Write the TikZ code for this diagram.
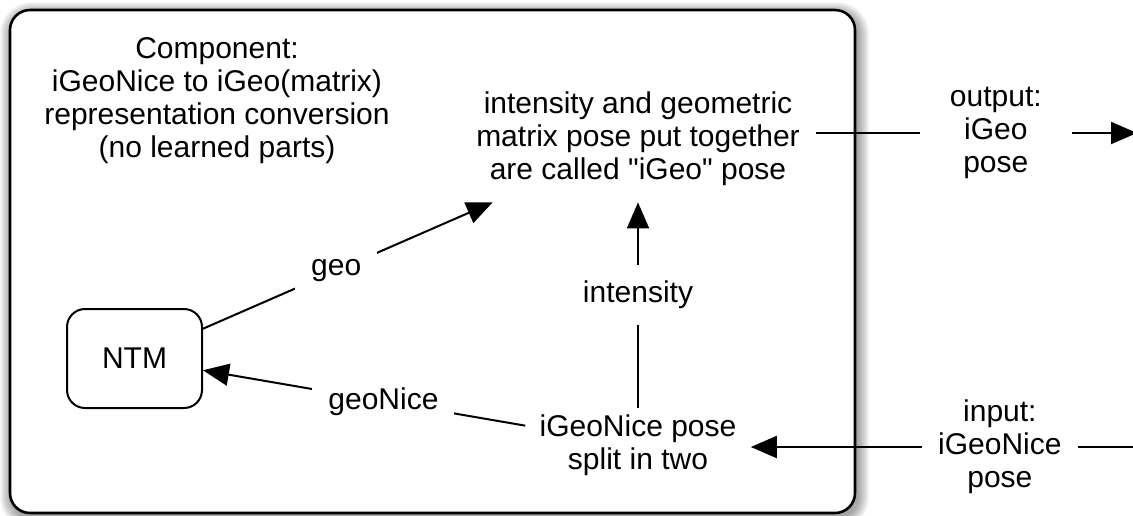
\documentclass[tikz,border=0pt]{standalone}
\usepackage{fontspec}
\setmainfont{Liberation Sans}[Ligatures=TeXOff]
\usetikzlibrary{arrows.meta}
\tikzset{
  txt/.style={align=center, font=\fontsize{15}{16.5}\selectfont},
  lbl/.style={txt, fill=white, inner sep=8pt},
  arr/.style={line width=1pt, -{Triangle[length=13pt,width=11pt]}},
}

\begin{document}
\begin{tikzpicture}[x=0.5pt, y=-0.5pt]
    \useasboundingbox (0,0) rectangle (1133,515);
    % soft shadow behind the component frame
    \foreach \r [evaluate=\r as \rc using 10+0.5*\r] in {1,...,12}
        \fill[black, opacity=0.035, rounded corners=\rc pt] (12-\r,14-\r) rectangle (857+\r,517+\r);
    \draw[line width=1.3pt, fill=white, rounded corners=10pt] (10,10) rectangle (855,513);

    \node[txt] (comp) at (217,101) {Component:\\iGeoNice to iGeo(matrix)\\representation conversion\\(no learned parts)};
    \node[txt, inner sep=8pt] (pair) at (638,139) {intensity and geometric\\matrix pose put together\\are called "iGeo" pose};
    \node[txt, draw, line width=1pt, rounded corners=9pt, minimum width=67.5pt, minimum height=49.5pt] (ntm) at (134.5,358.5) {NTM};
    \node[txt, inner xsep=7pt, inner ysep=3pt] (split) at (638,445) {iGeoNice pose\\split in two};
    \coordinate (out) at (1137,133);
    \coordinate (in) at (1140,447);

    \draw[arr] (ntm) -- node[lbl, pos=0.46] {geo} (pair);
    \draw[arr] (split) -- node[lbl, pos=0.44] {geoNice} (ntm);
    \draw[arr] (split) -- node[lbl, pos=0.55] {intensity} (pair);
    \draw[arr] (pair.east |- out) -- node[lbl, inner xsep=15pt, pos=0.56] {output:\\iGeo\\pose} (out);
    \draw[arr] (in) -- node[lbl, pos=0.36] {input:\\iGeoNice\\pose} (split.east |- in);
\end{tikzpicture}
\end{document}
